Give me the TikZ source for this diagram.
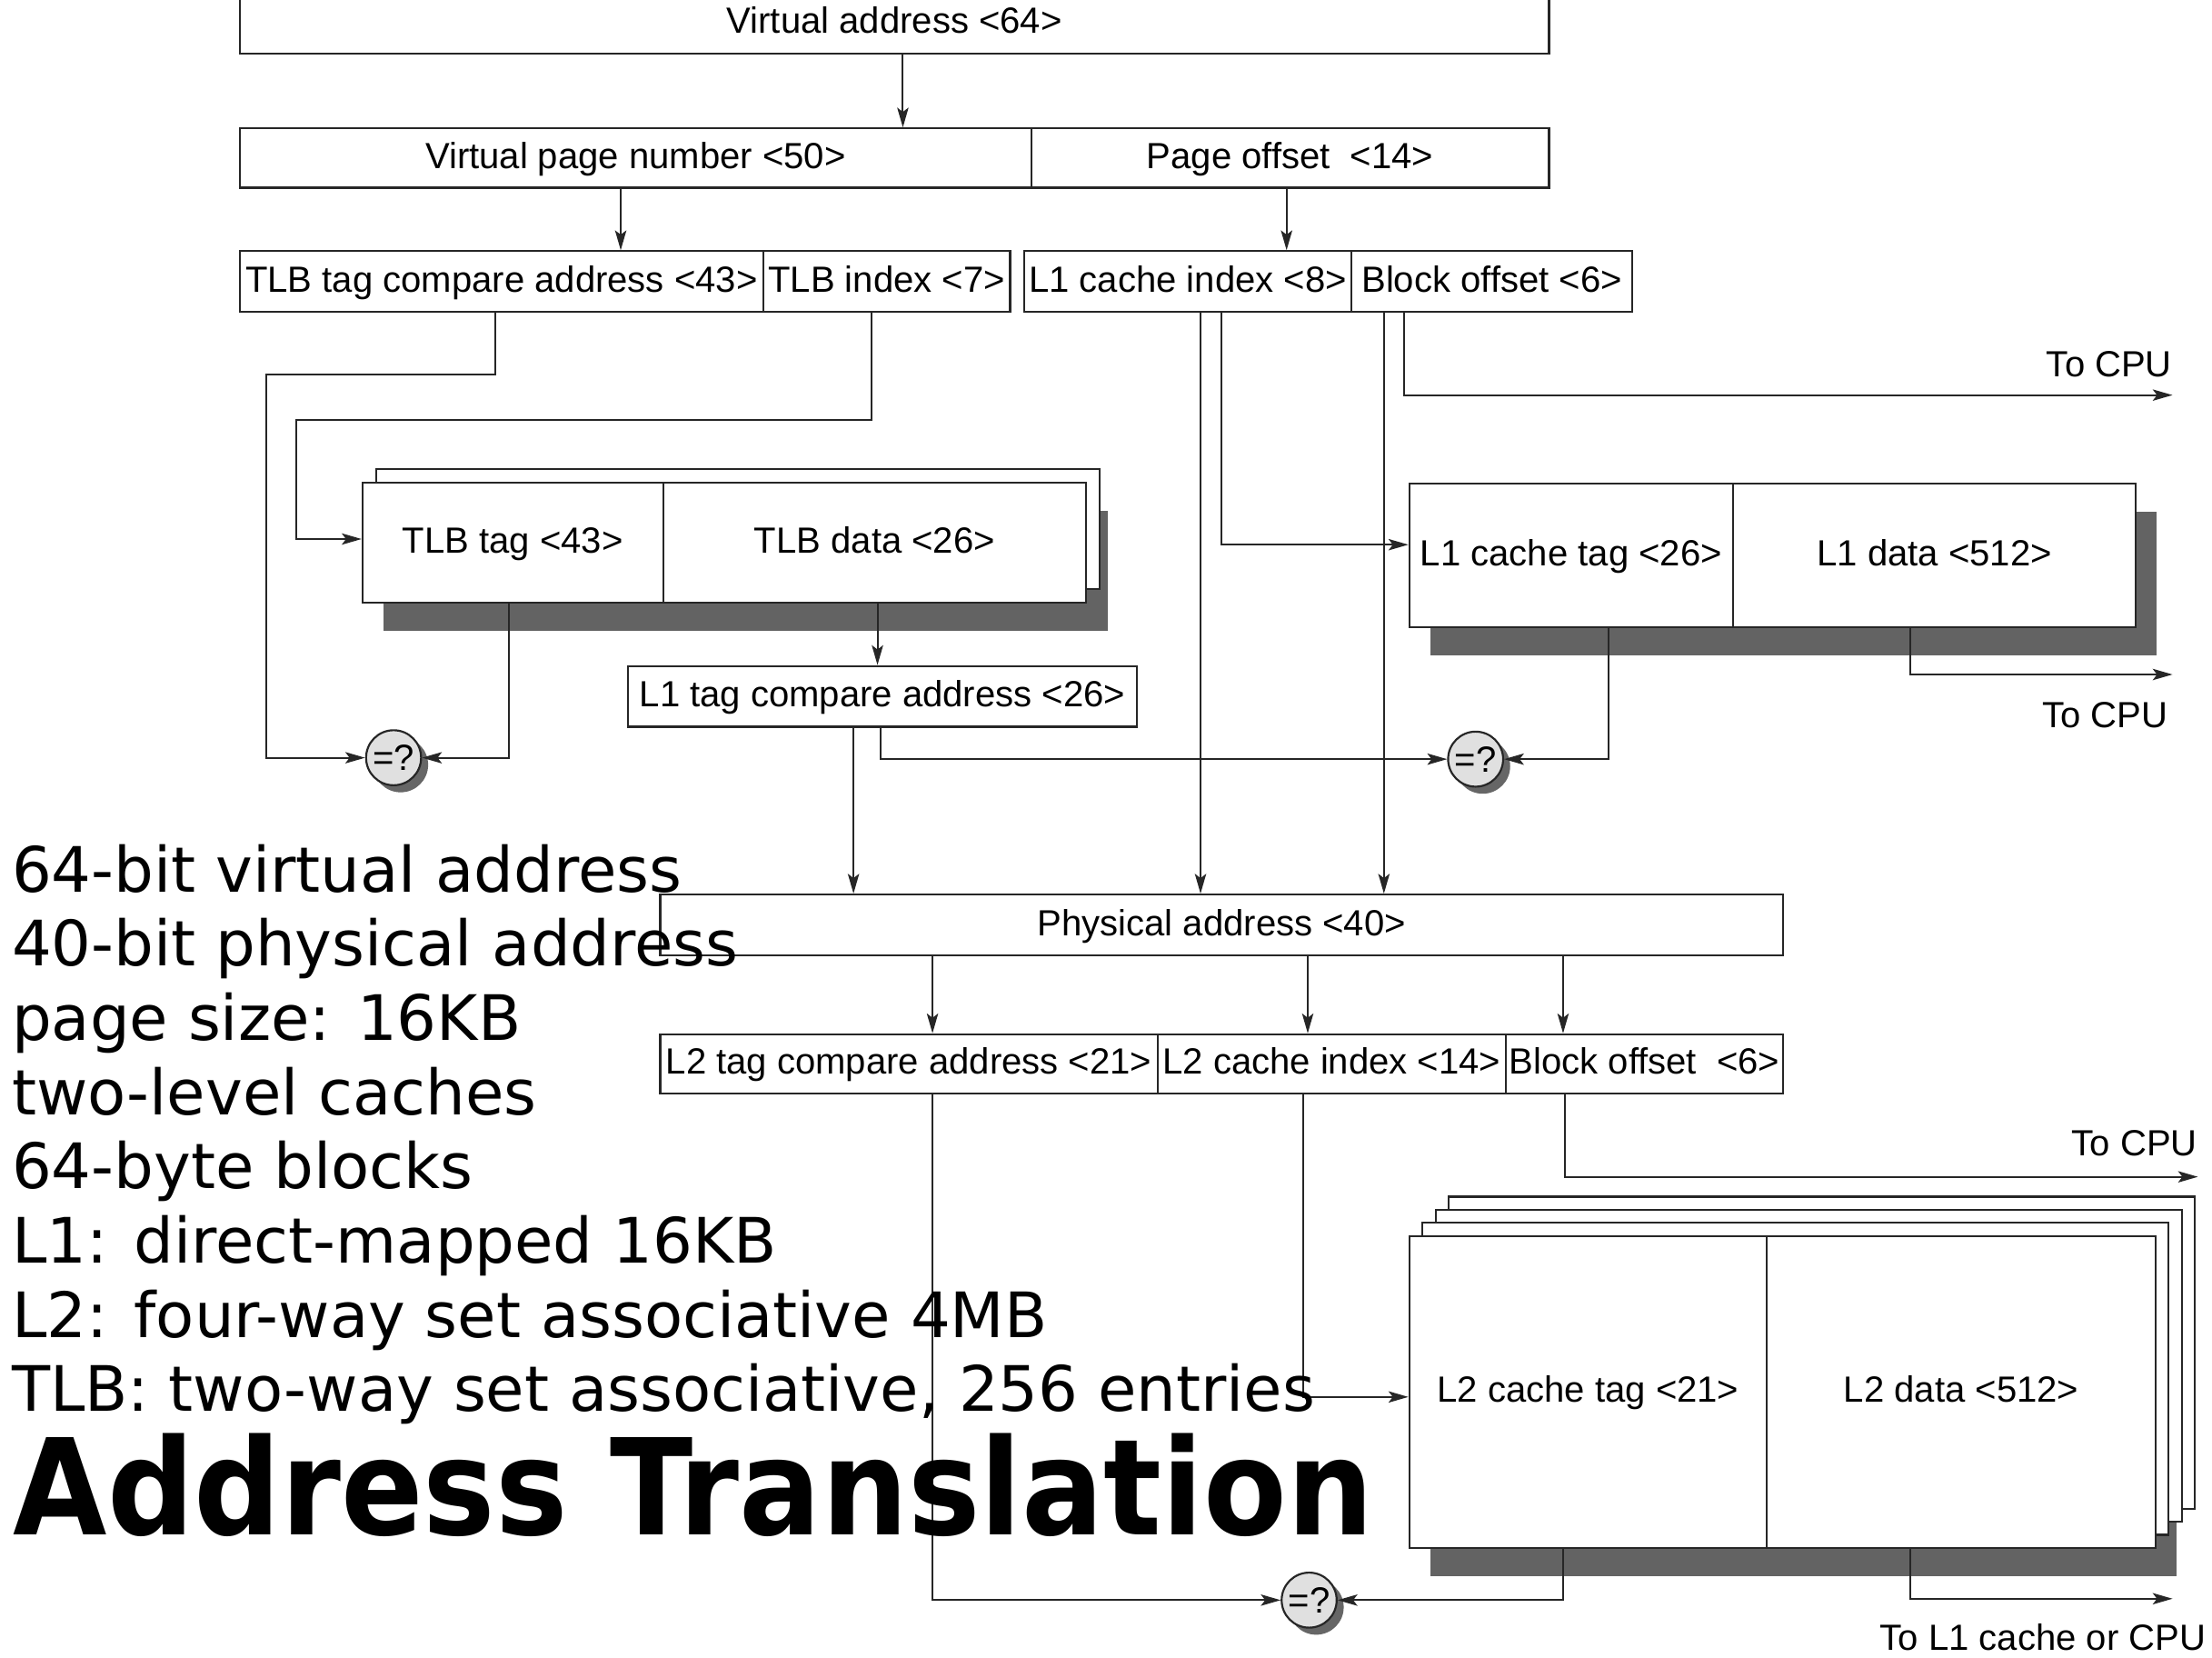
\documentclass[tikz,border=0pt]{standalone}
\usepackage{fontspec}
\setmainfont{Liberation Sans}
\newfontfamily\notefont{DejaVu Sans}
\newfontfamily\titlefont[FakeStretch=0.91]{DejaVu Sans}
\usetikzlibrary{arrows.meta,shadows}
\tikzset{
  cell/.style={draw=black!85, fill=white, line width=.7pt, inner sep=0pt,
    text height=.94em, text depth=.2em, font=\fontsize{12.9}{15}\selectfont},
  sheet/.style={draw=black!85, fill=white, line width=.7pt},
  shade/.style={fill=black!61},
  cmp/.style={circle, draw=black!85, fill=black!12, line width=.7pt, inner sep=0pt,
    minimum size=19.5pt, font=\fontsize{12.9}{15}\selectfont,
    drop shadow={shadow xshift=2.5pt, shadow yshift=-2.5pt, fill=black!60, opacity=1}},
  wire/.style={draw=black!85, line width=.65pt},
  arr/.style={wire, -{Stealth[length=7pt,width=4pt,inset=1.5pt]}},
  lbl/.style={inner sep=0pt, font=\fontsize{12.9}{15}\selectfont},
  notes/.style={inner sep=0pt, align=left, font=\notefont\fontsize{22.2}{26.3}\selectfont},
}
\begin{document}
\begin{tikzpicture}[x=0.5pt,y=-0.5pt]
\useasboundingbox (0,0) rectangle (1568,1175);
% virtual address and its fields
\node[cell, minimum width=464pt, minimum height=22pt] (va) at (634,16) {Virtual address <64>};
\node[cell, minimum width=280.5pt, minimum height=21pt] (vpn) at (450.5,112) {Virtual page number <50>};
\node[cell, minimum width=183.5pt, minimum height=21pt] (po) at (914.5,112) {Page offset\ \ <14>};
\node[cell, minimum width=185.5pt, minimum height=21.5pt] (tlbcmp) at (355.5,199.5) {TLB tag compare address <43>};
\node[cell, minimum width=87.5pt, minimum height=21.5pt] (tlbidx) at (628.5,199.5) {TLB index <7>};
\node[cell, minimum width=116pt, minimum height=21.5pt] (l1idx) at (842,199.5) {L1 cache index <8>};
\node[cell, minimum width=99.5pt, minimum height=21.5pt] (boff1) at (1057.5,199.5) {Block offset <6>};
% TLB
\fill[shade] (272,362) rectangle (785,447);
\draw[sheet] (266.5,332.5) rectangle (779.5,417.5);
\node[cell, minimum width=106.5pt, minimum height=42.5pt] (tlbt) at (363.5,384.5) {TLB tag <43>};
\node[cell, minimum width=150pt, minimum height=42.5pt] (tlbd) at (620,384.5) {TLB data <26>};
\node[cell, minimum width=180.5pt, minimum height=21.5pt] (l1cmp) at (625.5,493.5) {L1 tag compare address <26>};
% L1 cache
\fill[shade] (1014,362.5) rectangle (1529,464.5);
\node[cell, minimum width=114.75pt, minimum height=51pt] (l1t) at (1113.75,393.5) {L1 cache tag <26>};
\node[cell, minimum width=142.75pt, minimum height=51pt] (l1d) at (1371.25,393.5) {L1 data <512>};
% physical address
\node[cell, minimum width=398pt, minimum height=21.5pt] (pa) at (866,655.5) {Physical address <40>};
\node[cell, minimum width=176.25pt, minimum height=21pt] (l2cmp) at (644.25,754) {L2 tag compare address <21>};
\node[cell, minimum width=123.5pt, minimum height=21pt] (l2idx) at (944,754) {L2 cache index <14>};
\node[cell, minimum width=98.25pt, minimum height=21pt] (boff2) at (1165.75,754) {Block offset\ \ <6>};
% L2 cache, four ways
\fill[shade] (1014,896) rectangle (1543,1117);
\foreach \k in {3,2,1}
  \draw[sheet] (999+9.3*\k,876-9.3*\k) rectangle (1528+9.3*\k,1097-9.3*\k);
\node[cell, minimum width=126.75pt, minimum height=110.5pt] (l2t) at (1125.75,986.5) {L2 cache tag <21>};
\node[cell, minimum width=137.75pt, minimum height=110.5pt] (l2d) at (1390.25,986.5) {L2 data <512>};
% comparators
\node[cmp] (cmp1) at (279,537) {=?};
\node[cmp] (cmp2) at (1046,538) {=?};
\node[cmp] (cmp3) at (928,1134) {=?};
% outputs
\coordinate (cpu1) at (1540,280);
\coordinate (cpu2) at (1540,478);
\coordinate (cpu3) at (1558,834);
\coordinate (cpu4) at (1540,1133);
\node[lbl, anchor=east] (cpulbl1) at (1540,258) {To CPU};
\node[lbl, anchor=east] (cpulbl2) at (1537,507) {To CPU};
\node[lbl, anchor=east] (cpulbl3) at (1558,810) {To CPU};
\node[lbl, anchor=east] (cpulbl4) at (1564,1160) {To L1 cache or CPU};
% wires
\draw[arr] ([xshift=3pt]va.south) -- ([xshift=3pt]va.south |- vpn.north);
\draw[arr] ([xshift=-5.25pt]vpn.south) -- ([xshift=-5.25pt]vpn.south |- tlbcmp.north);
\draw[arr] ([xshift=-1.25pt]po.south) -- ([xshift=-1.25pt]po.south |- l1idx.north);
\draw[arr] ([xshift=-2.25pt]tlbcmp.south) -- ++(0,44) -- ++(-162,0) |- (cmp1.west);
\draw[arr] ([xshift=-5.25pt]tlbidx.south) -- ++(0,76) -- ++(-408,0) |- ([yshift=1.25pt]tlbt.west);
\draw[arr] ([xshift=-1.25pt]tlbt.south) |- (cmp1.east);
\draw[arr] ([xshift=1pt]tlbd.south) -- ([xshift=1pt]tlbd.south |- l1cmp.north);
\draw[arr] ([xshift=-10.25pt]l1cmp.south) -- ([xshift=-10.25pt]l1cmp.south |- pa.north);
\draw[arr] ([xshift=-0.75pt]l1cmp.south) |- (cmp2.west);
\draw[arr] ([xshift=4.5pt]l1idx.south) -- ([xshift=4.5pt]l1idx.south |- pa.north);
\draw[arr] ([xshift=12pt]l1idx.south) |- ([yshift=3.75pt]l1t.west);
\draw[arr] ([xshift=-38.25pt]boff1.south) -- ([xshift=-38.25pt]boff1.south |- pa.north);
\draw[arr] ([xshift=-31.25pt]boff1.south) |- (cpu1);
\draw[arr] ([xshift=13.125pt]l1t.south) |- (cmp2.east);
\draw[arr] ([xshift=-8.625pt]l1d.south) |- (cpu2);
\draw[arr] ([xshift=-102.5pt]pa.south) -- ([xshift=-102.5pt]pa.south |- l2cmp.north);
\draw[arr] ([xshift=30.5pt]pa.south) -- ([xshift=30.5pt]pa.south |- l2idx.north);
\draw[arr] ([xshift=121pt]pa.south) -- ([xshift=121pt]pa.south |- boff2.north);
\draw[arr] ([xshift=8.375pt]l2cmp.south) |- (cmp3.west);
\draw[arr] ([xshift=-10pt]l2idx.south) |- ([yshift=-1.75pt]l2t.west);
\draw[arr] ([xshift=-28.375pt]boff2.south) |- (cpu3);
\draw[arr] ([xshift=-8.875pt]l2t.south) |- (cmp3.east);
\draw[arr] ([xshift=-18.125pt]l2d.south) |- (cpu4);
% overlay text
\node[notes, anchor=north west] (notes) at (8,598) {64-bit virtual address\\40-bit physical address\\page size: 16KB\\two-level caches\\64-byte blocks\\L1: direct-mapped 16KB\\L2: four-way set associative 4MB\\TLB: two-way set associative, 256 entries};
\node[inner sep=0pt, anchor=base west, font=\titlefont\bfseries\fontsize{47.3}{50}\selectfont] (title) at (9,1088) {Address Translation};
\end{tikzpicture}
\end{document}
